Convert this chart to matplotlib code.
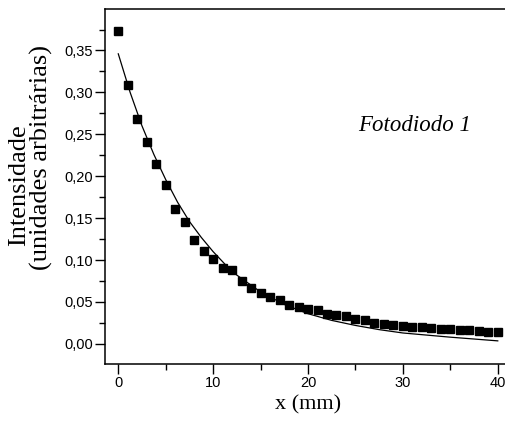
"""Decaimento da intensidade — Fotodiodo 1 (pontos medidos + curva ajustada)."""

import matplotlib
matplotlib.use("Agg")
import matplotlib.pyplot as plt
from matplotlib.ticker import FuncFormatter, MultipleLocator

# medidas (pontos quadrados)
x_mm = list(range(0, 41))
intensidade = [
    0.373, 0.309, 0.268, 0.241, 0.215, 0.189, 0.161, 0.145, 0.124, 0.111,
    0.101, 0.091, 0.088, 0.075, 0.067, 0.061, 0.056, 0.052, 0.046, 0.044,
    0.042, 0.040, 0.036, 0.035, 0.033, 0.030, 0.028, 0.025, 0.024, 0.022,
    0.021, 0.020, 0.020, 0.019, 0.018, 0.018, 0.017, 0.016, 0.015, 0.014,
    0.014,
]

# curva ajustada
x_fit = [0, 1.25, 2.5, 3.75, 5, 6.25, 7.5, 8.75, 10, 11.25, 12.5, 15, 17.5,
         20, 22.5, 25, 27.5, 30, 35, 40]
y_fit = [0.346, 0.300, 0.260, 0.226, 0.196, 0.169, 0.146, 0.127, 0.110,
         0.095, 0.082, 0.062, 0.047, 0.036, 0.028, 0.022, 0.017, 0.013,
         0.008, 0.0036]

SERIF = ["Liberation Serif", "DejaVu Serif"]
SANS = ["Liberation Sans", "DejaVu Sans"]

fig = plt.figure(figsize=(5.05, 4.21), dpi=100)
ax = fig.add_axes([105 / 505, 1 - 364 / 421, 407 / 505, 355 / 421])

ax.plot(x_fit, y_fit, color="black", lw=0.9)
ax.plot(x_mm, intensidade, ls="none", marker="s", ms=5.2, color="black")

ax.set_xlim(-1.4, 41.5)
ax.set_ylim(-0.024, 0.3995)

ax.xaxis.set_major_locator(MultipleLocator(10))
ax.xaxis.set_minor_locator(MultipleLocator(5))
ax.yaxis.set_major_locator(MultipleLocator(0.05))
ax.yaxis.set_minor_locator(MultipleLocator(0.025))
ax.yaxis.set_major_formatter(FuncFormatter(lambda v, _: f"{v:.2f}".replace(".", ",")))

ax.tick_params(which="both", direction="out", width=1.0, labelsize=10.5,
               right=False, top=False)
ax.tick_params(which="major", length=7, pad=1.5)
ax.tick_params(which="minor", length=4)
for lab in ax.get_xticklabels() + ax.get_yticklabels():
    lab.set_family(SANS)

for side in ("left", "bottom", "top"):
    ax.spines[side].set_linewidth(1.1)
ax.spines["right"].set_visible(False)

ax.set_xlabel("x (mm)", family=SERIF, fontsize=16, labelpad=4)

fig.text(19 / 505, 1 - 185 / 421, "Intensidade", family=SERIF, fontsize=19,
         rotation=90, ha="center", va="center")
fig.text(41 / 505, 1 - 157 / 421, "(unidades arbitrárias)", family=SERIF,
         fontsize=19, rotation=90, ha="center", va="center")

ax.text(25.3, 0.260, "Fotodiodo 1", family=SERIF, style="italic",
        fontsize=16.5, ha="left", va="center")

fig.savefig("out.png", dpi=100)
